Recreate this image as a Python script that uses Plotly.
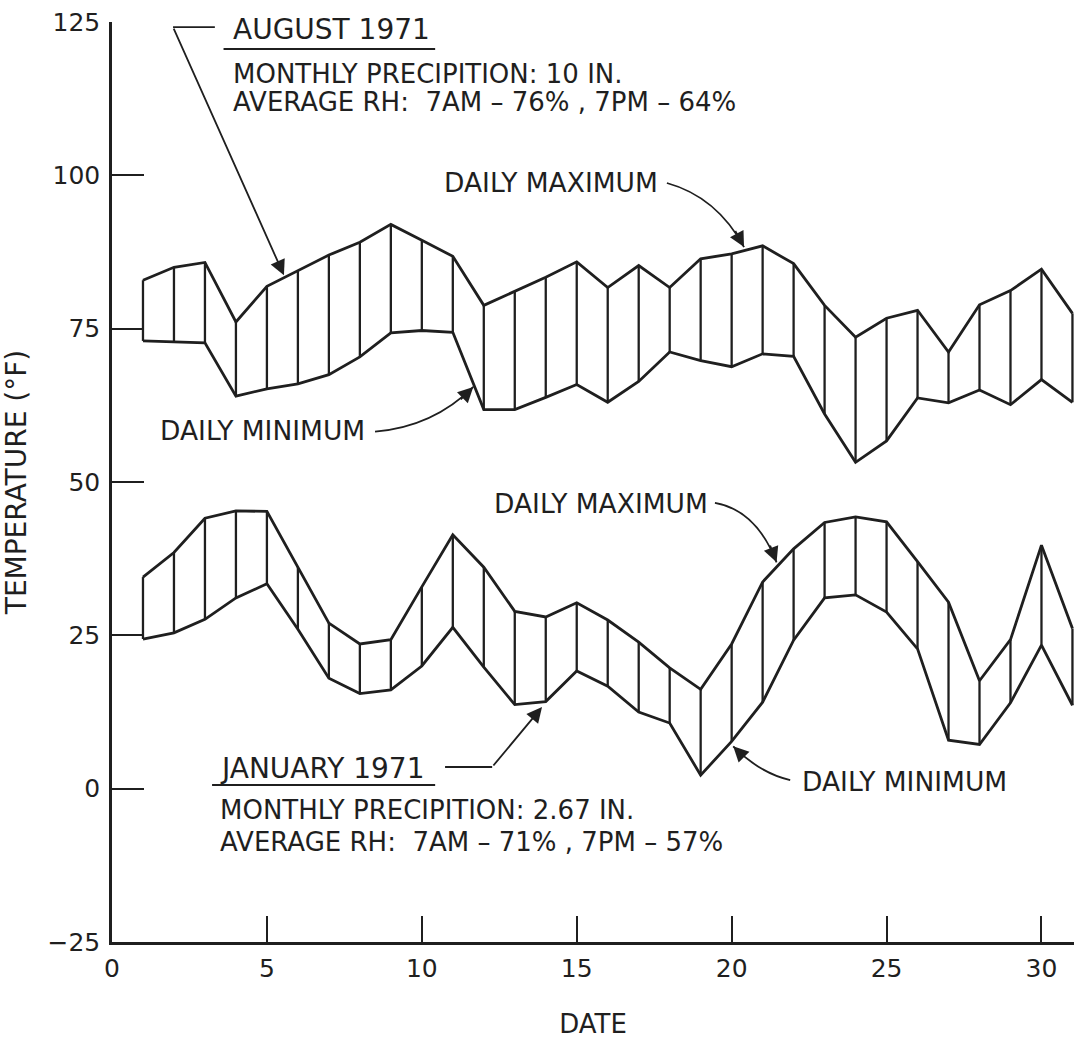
import plotly.graph_objects as go

# ---------------- data ----------------
days = list(range(1, 32))

aug_max = [82.9, 85.0, 85.8, 76.1, 81.9, 84.4, 87.0, 89.1, 92.0, 89.4, 86.8,
           78.8, 81.1, 83.4, 85.9, 81.7, 85.3, 81.7, 86.4, 87.2, 88.5, 85.6,
           78.8, 73.6, 76.7, 78.0, 71.2, 78.9, 81.2, 84.7, 77.5]
aug_min = [73.0, 72.8, 72.7, 64.0, 65.2, 66.0, 67.5, 70.4, 74.3, 74.7, 74.4,
           61.8, 61.8, 63.8, 65.9, 63.0, 66.4, 71.2, 69.8, 68.8, 70.9, 70.5,
           61.1, 53.2, 56.7, 63.7, 62.9, 65.0, 62.6, 66.7, 63.0]

jan_max = [34.5, 38.5, 44.1, 45.3, 45.2, 36.1, 27.0, 23.6, 24.3, 32.9, 41.4,
           36.1, 28.9, 28.0, 30.3, 27.5, 23.9, 19.7, 16.2, 23.6, 33.7, 39.1,
           43.4, 44.3, 43.5, 37.0, 30.4, 17.6, 24.3, 39.7, 26.1]
jan_min = [24.4, 25.4, 27.6, 31.1, 33.4, 26.0, 18.0, 15.5, 16.1, 20.0, 26.3,
           19.8, 13.7, 14.2, 19.2, 16.7, 12.5, 10.7, 2.2, 7.7, 14.1, 24.2,
           31.1, 31.6, 28.8, 22.8, 7.9, 7.2, 14.0, 23.4, 13.6]

x_tick_vals = [0, 5, 10, 15, 20, 25, 30]
x_tick_text = ["0", "5", "10", "15", "20", "25", "30"]
y_tick_vals = [-25, 0, 25, 50, 75, 100, 125]
y_tick_text = ["\u221225", "0", "25", "50", "75", "100", "125"]

INK = "#1f1f1f"
FONT = "DejaVu Sans"

fig = go.Figure()


def add_band(mx, mn):
    vx, vy = [], []
    for d, lo, hi in zip(days, mn, mx):
        vx += [d, d, None]
        vy += [lo, hi, None]
    fig.add_trace(go.Scatter(x=vx, y=vy, mode="lines",
                             line=dict(color=INK, width=2.3),
                             hoverinfo="skip", showlegend=False))
    fig.add_trace(go.Scatter(x=days, y=mx, mode="lines",
                             line=dict(color=INK, width=2.8),
                             name="Daily maximum", showlegend=False))
    fig.add_trace(go.Scatter(x=days, y=mn, mode="lines",
                             line=dict(color=INK, width=2.8),
                             name="Daily minimum", showlegend=False))


add_band(aug_max, aug_min)
add_band(jan_max, jan_min)

shapes = []
annotations = []


def text(x, y, s, size, anchor="left"):
    annotations.append(dict(x=x, y=y, xref="x", yref="y", text=s,
                            showarrow=False, xanchor=anchor, yanchor="middle",
                            font=dict(family=FONT, size=size, color=INK)))


def seg(x0, y0, x1, y1, w=1.8):
    shapes.append(dict(type="line", xref="x", yref="y", x0=x0, y0=y0,
                       x1=x1, y1=y1, line=dict(color=INK, width=w)))


def arrow(x_from, y_from, x_to, y_to, w=1.8):
    annotations.append(dict(x=x_to, y=y_to, ax=x_from, ay=y_from,
                            xref="x", yref="y", axref="x", ayref="y",
                            text="", showarrow=True, arrowhead=2,
                            arrowsize=1.7, arrowwidth=w, arrowcolor=INK,
                            standoff=0, startstandoff=0))


def curved_arrow(p0, c, p1):
    shapes.append(dict(type="path", xref="x", yref="y",
                       path=f"M {p0[0]},{p0[1]} Q {c[0]},{c[1]} {p1[0]},{p1[1]}",
                       line=dict(color=INK, width=1.8)))
    f = 0.35
    sx = p1[0] + f * (c[0] - p1[0])
    sy = p1[1] + f * (c[1] - p1[1])
    arrow(sx, sy, p1[0], p1[1])


HEAD = 28
BODY = 26
LBL = 26.5

# ---- August block ----
text(3.84, 123.7, "AUGUST 1971", HEAD)
seg(3.60, 120.6, 10.43, 120.6, 2.0)
text(3.84, 116.5, "MONTHLY PRECIPITION: 10 IN.", BODY)
text(3.84, 111.9, "AVERAGE RH:  7AM – 76% , 7PM – 64%", BODY)
seg(3.32, 124.18, 1.97, 124.18)
arrow(1.97, 124.18, 5.55, 83.7)

text(17.7, 98.9, "DAILY MAXIMUM", LBL, "right")
curved_arrow((17.91, 98.75), (19.52, 96.5), (20.4, 88.3))

text(8.23, 58.47, "DAILY MINIMUM", LBL, "right")
curved_arrow((8.49, 58.2), (10.37, 59.0), (11.66, 65.5))

# ---- January block ----
text(3.42, 3.36, "JANUARY 1971", HEAD)
seg(3.23, 0.59, 10.43, 0.59, 2.0)
text(3.42, -3.5, "MONTHLY PRECIPITION: 2.67 IN.", BODY)
text(3.42, -8.7, "AVERAGE RH:  7AM – 71% , 7PM – 57%", BODY)
seg(10.75, 3.53, 12.27, 3.53)
arrow(12.27, 3.53, 13.88, 13.3)

text(19.3, 46.57, "DAILY MAXIMUM", LBL, "right")
curved_arrow((19.46, 46.6), (20.8, 45.4), (21.45, 36.9))

text(22.2, 1.13, "DAILY MINIMUM", LBL, "left")
curved_arrow((21.89, 1.4), (20.92, 2.5), (20.05, 6.9))

fig.update_layout(
    width=1074, height=1044,
    margin=dict(l=112, r=0, t=22, b=102),
    paper_bgcolor="white", plot_bgcolor="white",
    font=dict(family=FONT, color=INK),
    shapes=shapes, annotations=annotations,
    showlegend=False,
    xaxis=dict(range=[0, 31.05], tickvals=x_tick_vals, ticktext=x_tick_text,
               ticks="inside", ticklen=26, tickwidth=2, tickcolor=INK,
               showline=True, linewidth=2.5, linecolor=INK,
               showgrid=False, zeroline=False, ticklabelstandoff=2,
               tickfont=dict(family=FONT, size=25, color=INK),
               title=dict(text="DATE", standoff=34,
                          font=dict(family=FONT, size=26, color=INK))),
    yaxis=dict(range=[-25, 125], tickvals=y_tick_vals, ticktext=y_tick_text,
               ticks="inside", ticklen=32, tickwidth=2, tickcolor=INK,
               showline=True, linewidth=2.5, linecolor=INK,
               showgrid=False, zeroline=False, ticklabelstandoff=4,
               tickfont=dict(family=FONT, size=25, color=INK),
               title=dict(text="TEMPERATURE (°F)", standoff=18,
                          font=dict(family=FONT, size=28, color=INK))),
)

fig.write_html("out.html")
